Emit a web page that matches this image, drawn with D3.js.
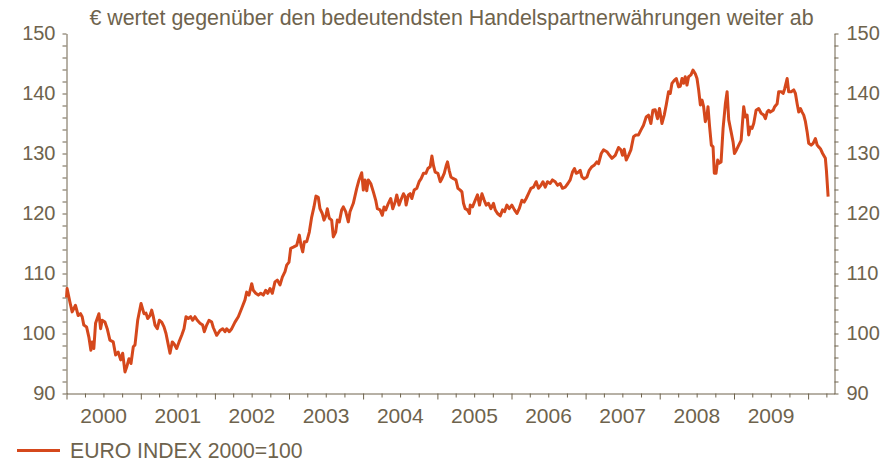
<!DOCTYPE html>
<html>
<head>
<meta charset="utf-8">
<script src="https://cdn.jsdelivr.net/npm/d3@7"></script>
<style>
  html, body { margin: 0; padding: 0; background: #fff; }
  svg { display: block; }
  text { font-family: "Liberation Sans", Arial, sans-serif; fill: #6e634d; }
</style>
</head>
<body>
<svg id="chart" width="893" height="461"></svg>
<script>
// ---- data ----
const title = "€ wertet gegenüber den bedeutendsten Handelspartnerwährungen weiter ab";
const seriesName = "EURO INDEX 2000=100";
const yearLabels = ["2000","2001","2002","2003","2004","2005","2006","2007","2008","2009"];
const yTickLabels = [90,100,110,120,130,140,150];
// time as offset in years from 2000-01-01
const times = [
0.000,0.008,0.045,0.076,0.121,0.157,0.189,0.211,0.233,0.270,0.301,0.328,0.345,0.368,0.391,0.436,0.459,0.480,0.517,0.548,
0.584,0.629,0.661,0.696,0.729,0.756,0.787,0.810,0.841,0.868,0.899,0.922,0.958,1.003,1.043,1.070,1.093,1.124,1.147,1.169,
1.192,1.223,1.250,1.282,1.313,1.340,1.371,1.394,1.425,1.448,1.484,1.516,1.552,1.583,1.610,1.641,1.673,1.700,1.731,1.762,
1.799,1.835,1.857,1.889,1.920,1.957,1.978,2.024,2.069,2.105,2.136,2.159,2.194,2.227,2.271,2.316,2.362,2.406,2.429,2.460,
2.497,2.518,2.551,2.586,2.618,2.653,2.686,2.713,2.744,2.775,2.811,2.842,2.879,2.910,2.946,2.969,3.000,3.023,3.058,3.104,
3.139,3.162,3.185,3.207,3.239,3.274,3.306,3.337,3.364,3.395,3.418,3.449,3.472,3.499,3.517,3.544,3.576,3.598,3.630,3.652,
3.679,3.711,3.733,3.765,3.800,3.823,3.868,3.914,3.945,3.981,4.003,4.026,4.049,4.070,4.103,4.138,4.170,4.192,4.228,4.259,
4.282,4.305,4.340,4.372,4.399,4.431,4.453,4.484,4.507,4.543,4.565,4.579,4.610,4.633,4.656,4.687,4.723,4.754,4.781,4.812,
4.845,4.872,4.903,4.926,4.947,4.970,5.007,5.038,5.061,5.092,5.119,5.136,5.159,5.182,5.217,5.250,5.277,5.308,5.331,5.352,
5.375,5.406,5.433,5.443,5.474,5.510,5.541,5.568,5.601,5.632,5.659,5.690,5.722,5.757,5.780,5.811,5.848,5.879,5.906,5.938,
5.969,6.005,6.040,6.073,6.104,6.140,6.171,6.198,6.229,6.262,6.297,6.333,6.364,6.397,6.424,6.455,6.486,6.522,6.553,6.590,
6.621,6.657,6.688,6.725,6.761,6.792,6.823,6.850,6.873,6.904,6.927,6.950,6.981,7.018,7.049,7.085,7.120,7.152,7.175,7.211,
7.242,7.287,7.323,7.355,7.400,7.444,7.476,7.498,7.521,7.548,7.579,7.611,7.647,7.679,7.714,7.746,7.781,7.818,7.849,7.881,
7.908,7.939,7.970,7.997,8.030,8.061,8.088,8.119,8.142,8.165,8.196,8.223,8.254,8.277,8.300,8.321,8.344,8.367,8.389,8.421,
8.448,8.479,8.502,8.524,8.547,8.570,8.591,8.614,8.637,8.650,8.672,8.695,8.718,8.735,8.758,8.780,8.802,8.826,8.853,8.884,
8.907,8.929,8.961,8.988,9.006,9.033,9.064,9.096,9.131,9.154,9.177,9.198,9.221,9.244,9.266,9.298,9.333,9.366,9.401,9.424,
9.447,9.468,9.491,9.528,9.549,9.582,9.603,9.636,9.663,9.684,9.717,9.738,9.771,9.806,9.829,9.852,9.873,9.896,9.919,9.941,
9.964,9.987,10.008,10.041,10.068,10.099,10.122,10.143,10.166,10.196,10.233,10.247,10.270
];
const values = [
106.0,107.5,105.3,103.6,104.7,103.0,103.3,102.8,101.4,101.1,99.4,97.2,98.6,97.5,101.7,103.3,100.8,102.2,101.9,100.8,
98.9,98.6,96.4,96.9,95.6,96.7,93.6,94.4,95.8,95.0,97.8,98.1,102.2,105.0,103.3,103.4,102.5,103.0,103.9,102.8,
101.4,100.8,102.2,101.9,101.1,100.0,98.1,96.7,98.6,98.3,97.5,98.6,99.7,100.8,102.8,102.5,102.8,102.2,102.8,102.2,
101.7,101.4,100.3,101.4,102.2,101.9,101.0,99.7,100.5,100.8,100.3,100.8,100.3,100.8,101.9,102.8,104.2,105.6,106.9,106.4,
108.3,107.2,106.7,106.4,106.7,106.4,107.2,106.7,107.5,106.7,108.6,108.9,108.1,109.4,110.3,111.4,111.9,114.2,114.4,114.7,
116.4,114.7,113.6,115.3,115.3,116.9,119.4,121.1,122.9,122.7,120.8,120.0,118.9,119.7,120.8,119.2,118.9,116.1,116.9,118.9,
118.6,120.6,121.1,120.3,118.6,120.3,121.7,124.2,125.6,126.8,123.9,125.6,123.8,125.6,125.0,123.6,122.2,120.8,120.6,119.7,
121.1,120.6,121.7,122.5,120.8,121.9,123.1,121.4,122.2,123.3,122.8,121.4,123.1,123.3,122.5,123.9,124.2,125.3,125.8,126.7,
126.7,127.5,127.8,129.6,128.0,126.9,126.7,125.3,125.8,126.7,128.0,128.6,127.2,126.1,125.8,125.6,124.2,123.9,123.6,121.7,
120.8,120.6,120.0,121.4,121.1,122.2,123.1,121.4,123.3,122.2,121.4,121.7,120.8,121.7,120.6,120.0,119.6,120.6,120.3,121.4,
120.8,121.4,120.6,120.0,120.8,122.2,121.9,122.5,123.3,124.2,124.4,125.3,124.2,124.7,125.3,124.4,125.3,125.0,125.6,125.3,
124.7,125.0,124.2,124.4,125.0,125.6,126.9,127.5,126.7,126.9,127.2,126.1,125.8,126.1,127.2,127.8,128.1,128.6,128.3,130.0,
130.6,130.3,129.7,129.2,129.7,131.0,130.6,129.7,130.7,128.9,129.7,130.6,132.8,133.1,133.1,133.9,134.7,136.1,136.4,135.0,
137.2,137.3,135.8,137.5,135.0,136.4,138.1,140.3,140.0,141.7,142.2,142.5,141.1,141.2,142.5,141.7,142.8,141.4,142.8,143.1,
143.9,143.3,142.5,140.6,138.1,138.9,137.8,135.3,136.4,137.8,134.4,131.4,131.1,126.7,126.7,128.9,128.4,128.6,134.2,138.3,
140.3,135.6,133.6,131.9,130.0,130.6,131.4,132.2,137.8,136.1,136.4,133.1,134.4,134.2,135.0,137.2,137.5,136.7,136.4,135.8,
136.9,137.2,136.9,137.2,137.8,138.3,140.3,140.3,140.0,140.8,142.5,140.3,140.3,140.6,140.0,138.3,136.9,137.5,136.9,136.4,
135.3,133.6,131.7,131.4,131.7,132.5,131.4,131.1,130.8,130.0,129.2,127.2,122.8
];

// ---- helpers ----
function toDate(offset) {
  const t = 2000 + offset;
  const yr = Math.floor(t);
  const s = new Date(yr, 0, 1), e = new Date(yr + 1, 0, 1);
  return new Date(+s + (t - yr) * (e - s));
}
const data = times.map((t, i) => ({ date: toDate(t), value: values[i] }));

// ---- layout ----
const svg = d3.select("#chart");
const x0 = 66.5, x1 = 834.5, yTop = 33.5, yBot = 393.5;
const axisColor = "#6e634d";
const lineColor = "#d5481c";
const fontFamily = '"Liberation Sans", Arial, sans-serif';

const x = d3.scaleTime()
  .domain([new Date(2000, 0, 1), new Date(2010, 4, 11)])
  .range([x0, x1]);
const y = d3.scaleLinear().domain([90, 150]).range([yBot, yTop]);

// title
svg.append("text")
  .attr("x", 451.5).attr("y", 25)
  .attr("text-anchor", "middle")
  .style("font-size", "21.4px")
  .text(title);

// y axes
const yMinor = d3.range(90, 151, 2);
function styleAxis(g) {
  g.select(".domain").attr("stroke", axisColor).attr("stroke-width", 1);
  g.selectAll(".tick line").attr("stroke", axisColor);
  g.selectAll(".tick text").attr("fill", axisColor)
    .style("font-size", "20px").style("font-family", fontFamily);
}
const leftAxis = d3.axisLeft(y).tickValues(yMinor).tickSize(4).tickSizeOuter(0)
  .tickPadding(7)
  .tickFormat(d => yTickLabels.includes(d) ? d : "");
svg.append("g").attr("transform", `translate(${x0},0)`).call(leftAxis).call(styleAxis);

const rightAxis = d3.axisRight(y).tickValues(yMinor).tickSize(4).tickSizeOuter(0)
  .tickPadding(8)
  .tickFormat(d => yTickLabels.includes(d) ? d : "");
svg.append("g").attr("transform", `translate(${x1},0)`).call(rightAxis).call(styleAxis);

// x axis: quarterly minor ticks, yearly major ticks
const quarterTicks = d3.timeMonth.every(3).range(new Date(2000, 0, 1), new Date(2010, 4, 12));
const xAxis = d3.axisBottom(x).tickValues(quarterTicks).tickSizeOuter(0).tickFormat("");
const gx = svg.append("g").attr("transform", `translate(0,${yBot})`).call(xAxis).call(styleAxis);
gx.selectAll(".tick line").attr("y2", d => d.getMonth() === 0 ? 6 : 4);

// year labels, centered in each year band
svg.append("g").selectAll("text").data(yearLabels).join("text")
  .attr("x", d => (x(new Date(+d, 0, 1)) + x(new Date(+d + 1, 0, 1))) / 2)
  .attr("y", 423)
  .attr("text-anchor", "middle")
  .style("font-size", "21px")
  .text(d => d);

// line
const line = d3.line().x(d => x(d.date)).y(d => y(d.value)).curve(d3.curveLinear);
svg.append("path").datum(data)
  .attr("d", line)
  .attr("fill", "none")
  .attr("stroke", lineColor)
  .attr("stroke-width", 3)
  .attr("stroke-linejoin", "round");

// legend
const lg = svg.append("g");
lg.append("line").attr("x1", 17).attr("x2", 60).attr("y1", 450.5).attr("y2", 450.5)
  .attr("stroke", lineColor).attr("stroke-width", 3);
lg.append("text").attr("x", 70).attr("y", 458).style("font-size", "21.2px").text(seriesName);
</script>
</body>
</html>
